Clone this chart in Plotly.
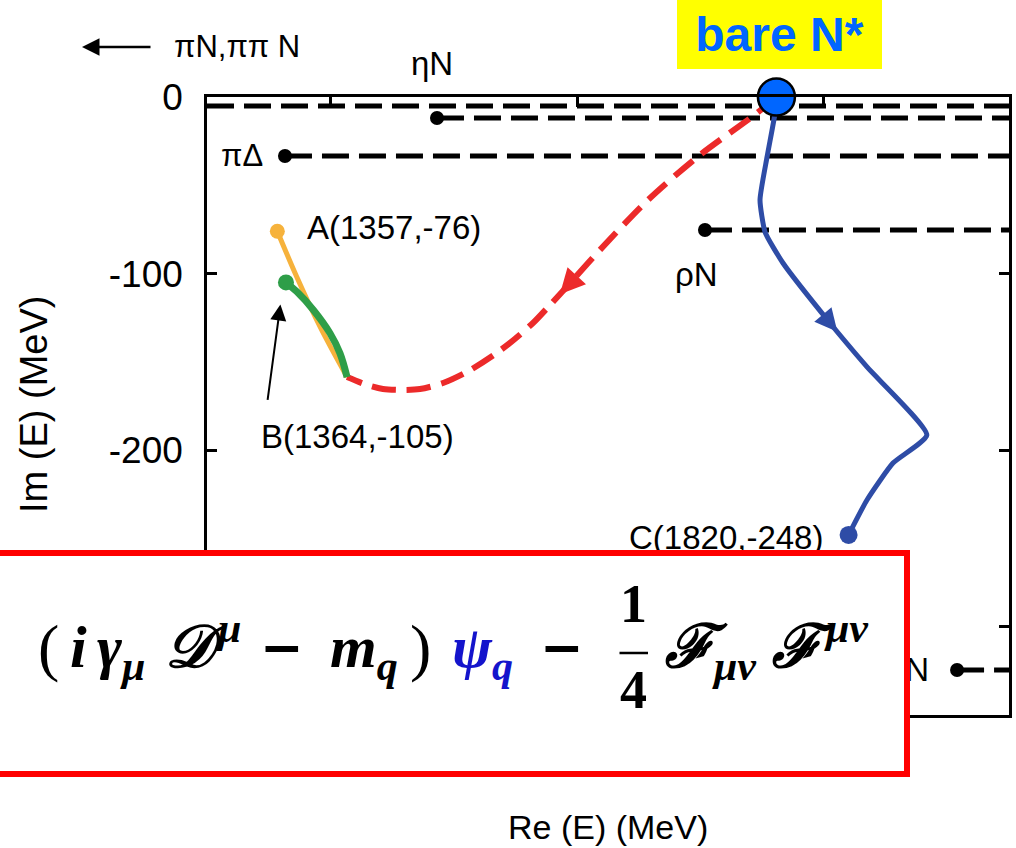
import math
import plotly.graph_objects as go

# ---------------- data ----------------
x_range = [1300, 1950]
y_range = [-350, 0]
y_ticks = [0, -100, -200, -300]
y_ticktext = ["0", "-100", "-200", "-300"]
x_ticks = [1400, 1600, 1800]

bare_re, bare_im = 1761.5, 0.0

thr_names = ["πN,ππ N", "ηN", "πΔ", "ρN", "σN"]
thr_re = [1300.0, 1486.4, 1363.2, 1703.6, 1907.9]
thr_im = [-5.1, -11.9, -33.4, -75.3, -324.5]
thr_dot = [False, True, True, True, True]

red_re = [1761.5, 1745.8, 1699.6, 1657.4, 1618.5, 1595.8, 1578.0, 1564.2, 1545.6, 1533.4,
          1510.7, 1491.3, 1472.6, 1458.9, 1442.6, 1429.7, 1413.5]
red_im = [0.0, -9.1, -32.8, -58.3, -86.6, -104.2, -117.8, -128.0, -139.3, -145.6,
          -155.7, -162.0, -165.4, -165.9, -165.4, -163.1, -158.6]

blue_re = [1761.5, 1760.4, 1753.9, 1748.2, 1752.3, 1766.8, 1804.9, 1834.9, 1883.4,
           1856.0, 1834.9, 1820.0]
blue_im = [0.0, -9.1, -34.0, -58.3, -76.5, -94.0, -128.0, -152.9, -191.4,
           -207.3, -228.2, -248.0]

orange_re = [1357.0, 1372.7, 1391.6, 1413.5]
orange_im = [-76.0, -101.8, -130.1, -158.6]

green_re = [1364.0, 1372.7, 1386.2, 1399.7, 1407.8, 1413.5]
green_im = [-105.0, -110.2, -120.6, -133.8, -145.2, -158.6]

pole_names = ["A", "B", "C"]
pole_re = [1357, 1364, 1820]
pole_im = [-76, -105, -248]

# ---------------- geometry ----------------
W, H = 1016, 848
ML, MR, MT, MB = 207, 7, 97, 133
PW, PH = W - ML - MR, H - MT - MB
SX = PW / (x_range[1] - x_range[0])
SY = PH / (y_range[1] - y_range[0])


def pxx(px):
    return (px - ML) / PW


def pxy(py):
    return (H - MB - py) / PH


RED = "#EC2A2A"
BLUE = "#2E4CA6"
ORANGE = "#F6B23C"
GREEN = "#2E9E48"
NSTAR = "#0066FF"
LAB = "Liberation Sans, Arial, sans-serif"

fig = go.Figure()

# thresholds
for name, re, im, dot in zip(thr_names, thr_re, thr_im, thr_dot):
    fig.add_trace(go.Scatter(x=[re, x_range[1]], y=[im, im], mode="lines",
                             line=dict(color="black", width=5, dash="27px,10px"),
                             hoverinfo="skip", cliponaxis=False))
    if dot:
        fig.add_trace(go.Scatter(x=[re], y=[im], mode="markers",
                                 marker=dict(color="black", size=14),
                                 hoverinfo="skip", cliponaxis=False))

# trajectories
fig.add_trace(go.Scatter(x=red_re, y=red_im, mode="lines", line_shape="spline",
                         line=dict(color=RED, width=6, dash="24px,11px", smoothing=0.8),
                         cliponaxis=False))
fig.add_trace(go.Scatter(x=blue_re, y=blue_im, mode="lines", line_shape="spline",
                         line=dict(color=BLUE, width=5, smoothing=0.5), cliponaxis=False))
fig.add_trace(go.Scatter(x=orange_re, y=orange_im, mode="lines", line_shape="spline",
                         line=dict(color=ORANGE, width=5), cliponaxis=False))
fig.add_trace(go.Scatter(x=green_re, y=green_im, mode="lines", line_shape="spline",
                         line=dict(color=GREEN, width=7), cliponaxis=False))

# pole markers
fig.add_trace(go.Scatter(x=[pole_re[0]], y=[pole_im[0]], mode="markers",
                         marker=dict(color=ORANGE, size=15), cliponaxis=False))
fig.add_trace(go.Scatter(x=[pole_re[1]], y=[pole_im[1]], mode="markers",
                         marker=dict(color=GREEN, size=16), cliponaxis=False))
fig.add_trace(go.Scatter(x=[pole_re[2]], y=[pole_im[2]], mode="markers",
                         marker=dict(color=BLUE, size=18), cliponaxis=False))
# bare N* marker on the real axis
fig.add_trace(go.Scatter(x=[bare_re], y=[bare_im], mode="markers",
                         marker=dict(color=NSTAR, size=37, line=dict(color="black", width=2.5)),
                         cliponaxis=False))

ann = []


def seg_arrow(xs, ys, k, t, color, width, size, length):
    x0, y0, x1, y1 = xs[k], ys[k], xs[k + 1], ys[k + 1]
    tx, ty = x0 + t * (x1 - x0), y0 + t * (y1 - y0)
    dx, dy = (x1 - x0) * SX, -(y1 - y0) * SY
    n = math.hypot(dx, dy)
    return dict(x=tx, y=ty, xref="x", yref="y", ax=-dx / n * length, ay=-dy / n * length,
                text="", showarrow=True, arrowhead=2, arrowsize=size, arrowwidth=width,
                arrowcolor=color, standoff=0)


ann.append(seg_arrow(red_re, red_im, 5, 0.55, RED, 5, 1.0, 24))
ann.append(seg_arrow(blue_re, blue_im, 6, 0.2, BLUE, 4.5, 1.0, 24))

# B arrow
ann.append(dict(x=pole_re[1] - 4.5, y=pole_im[1] - 12.5, xref="x", yref="y", ax=-13, ay=97,
                text="", showarrow=True, arrowhead=2, arrowsize=1.6, arrowwidth=2,
                arrowcolor="black", standoff=0))

lf = dict(family=LAB, size=33, color="black")
# pole labels
ann.append(dict(x=pole_re[0], y=pole_im[0], xref="x", yref="y", text="A(1357,-76)",
                xanchor="left", yanchor="middle", xshift=28, yshift=4, showarrow=False, font=lf))
ann.append(dict(x=pole_re[1], y=pole_im[1], xref="x", yref="y", text="B(1364,-105)",
                xanchor="left", yanchor="middle", xshift=-27, yshift=-154, showarrow=False, font=lf))
ann.append(dict(x=pole_re[2], y=pole_im[2], xref="x", yref="y", text="C(1820,-248)",
                xanchor="right", yanchor="middle", xshift=-24, yshift=-3, showarrow=False, font=lf))

# threshold labels
ann.append(dict(x=thr_re[1], y=thr_im[1], xref="x", yref="y", text=thr_names[1],
                xanchor="center", yanchor="middle", xshift=-5, yshift=55, showarrow=False, font=lf))
ann.append(dict(x=thr_re[2], y=thr_im[2], xref="x", yref="y", text=thr_names[2],
                xanchor="right", yanchor="middle", xshift=-20, yshift=0, showarrow=False,
                font=dict(family=LAB, size=31, color="black")))
ann.append(dict(x=thr_re[3], y=thr_im[3], xref="x", yref="y", text=thr_names[3],
                xanchor="center", yanchor="middle", xshift=-8, yshift=-45, showarrow=False, font=lf))
ann.append(dict(x=thr_re[4], y=thr_im[4], xref="x", yref="y", text=thr_names[4],
                xanchor="right", yanchor="middle", xshift=-26, yshift=0, showarrow=False, font=lf))
# pi N, pi pi N arrow and label
ann.append(dict(x=pxx(82), y=pxy(47), xref="paper", yref="paper", ax=70, ay=0, text="",
                showarrow=True, arrowhead=2, arrowsize=1.4, arrowwidth=2.5, arrowcolor="black",
                standoff=0))
ann.append(dict(x=pxx(172), y=pxy(47), xref="paper", yref="paper", text=thr_names[0],
                xanchor="left", yanchor="middle", showarrow=False,
                font=dict(family=LAB, size=31, color="black")))

# bare N* label
ann.append(dict(x=pxx(779.5), y=pxy(34.5), xref="paper", yref="paper",
                text="<b>bare N*</b>", width=205, height=69, bgcolor="#FFFF00",
                borderpad=0, borderwidth=0, showarrow=False, xanchor="center", yanchor="middle",
                font=dict(family=LAB, size=48, color=NSTAR)))

# axis titles
ann.append(dict(x=pxx(34), y=pxy(405), xref="paper", yref="paper", text="Im (E) (MeV)",
                textangle=-90, showarrow=False, xanchor="center", yanchor="middle",
                font=dict(family=LAB, size=38, color="black")))
ann.append(dict(x=pxx(608), y=pxy(827), xref="paper", yref="paper", text="Re (E) (MeV)",
                showarrow=False, xanchor="center", yanchor="middle",
                font=dict(family=LAB, size=34, color="black")))

# formula box (overlay)
ann.append(dict(x=pxx(425), y=pxy(663.5), xref="paper", yref="paper", text=" ",
                width=958, height=215, bgcolor="white", bordercolor="#FF0000", borderwidth=6,
                borderpad=0, showarrow=False, xanchor="center", yanchor="middle"))

FF = "Liberation Serif, DejaVu Serif, serif"
QB = "#1414CC"
PAD = "<sub>\u00a0</sub><sup>\u00a0</sup>"
FY = 647


def fpiece(xl, text, color="black", anchor="left", size=60, y=FY, family=FF, bold=True):
    t = text + PAD
    if bold:
        t = "<b>" + t + "</b>"
    ann.append(dict(x=pxx(xl), y=pxy(y), xref="paper", yref="paper",
                    text=t, xanchor=anchor, yanchor="middle",
                    showarrow=False, font=dict(family=family, size=size, color=color)))


MINUS_F = "DejaVu Sans, sans-serif"
fpiece(4, "<i>ψ̄<sub>q</sub></i>", QB, anchor="right")
fpiece(36, "(", bold=False, size=64)
fpiece(68, "<i>i</i>")
fpiece(95, "<i>γ<sub>μ</sub></i>")
fpiece(163, "<i>𝒟\u200a<sup>μ</sup></i>")
fpiece(258, "−", family=MINUS_F, size=52)
fpiece(328, "<i>m<sub>q</sub></i>")
fpiece(408, ")", bold=False, size=64)
fpiece(450, "<i>ψ<sub>q</sub></i>", QB)
fpiece(538, "−", family=MINUS_F, size=52)
fpiece(663, "<i>ℱ<sub>μν</sub></i>")
fpiece(770, "<i>ℱ\u200a<sup>μν</sup></i>")

ann.append(dict(x=pxx(633), y=pxy(604), xref="paper", yref="paper", text="<b>1</b>",
                xanchor="center", yanchor="middle", showarrow=False,
                font=dict(family=FF, size=54, color="black")))
ann.append(dict(x=pxx(633), y=pxy(690), xref="paper", yref="paper", text="<b>4</b>",
                xanchor="center", yanchor="middle", showarrow=False,
                font=dict(family=FF, size=54, color="black")))
ann.append(dict(x=pxx(648), y=pxy(653), xref="paper", yref="paper", ax=-30, ay=0, text="",
                showarrow=True, arrowhead=0, arrowwidth=2.5, arrowcolor="black", standoff=0))

fig.update_layout(
    width=W, height=H, margin=dict(l=ML, r=MR, t=MT, b=MB, autoexpand=False),
    paper_bgcolor="white", plot_bgcolor="white", showlegend=False,
    annotations=ann,
    xaxis=dict(range=x_range, showgrid=False, zeroline=False, showline=True, linecolor="black",
               linewidth=2.5, mirror="ticks", ticks="inside", ticklen=10, tickwidth=2.5,
               tickcolor="black", tickvals=x_ticks, showticklabels=False, automargin=False),
    yaxis=dict(range=y_range, showgrid=False, zeroline=False, showline=True, linecolor="black",
               linewidth=2.5, mirror="ticks", ticks="inside", ticklen=10, tickwidth=2.5,
               tickcolor="black", tickvals=y_ticks, ticktext=y_ticktext, ticklabelstandoff=14,
               tickfont=dict(family=LAB, size=37, color="black"), automargin=False),
)

fig.write_html("out.html", config={"displayModeBar": False},
               post_script="document.body.style.margin='0';")
